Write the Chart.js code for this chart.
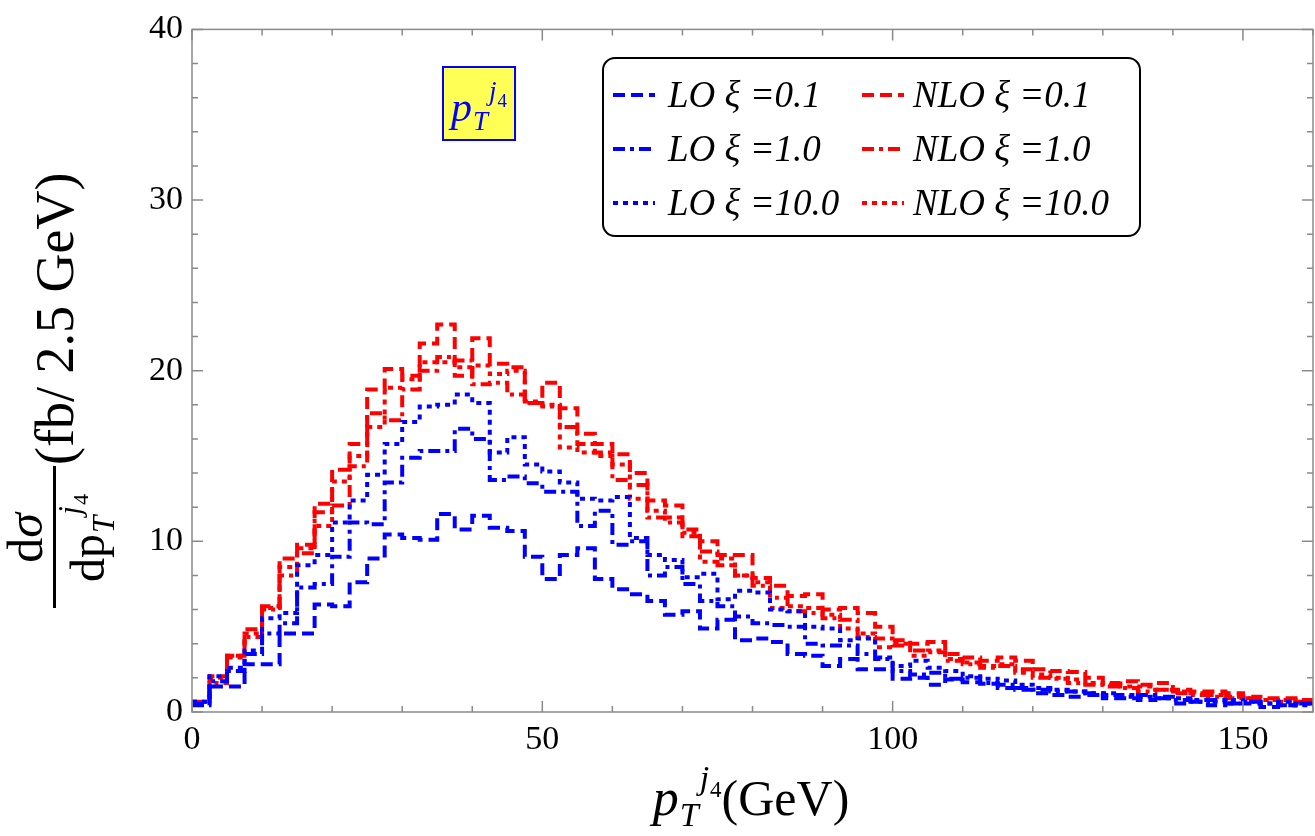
<!DOCTYPE html>
<html>
<head>
<meta charset="utf-8">
<script src="https://cdn.jsdelivr.net/npm/chart.js@4.4.0/dist/chart.umd.min.js"></script>
<style>
  html, body { margin: 0; padding: 0; background: #fff; }
  #wrap { width: 1315px; height: 836px; position: relative; }
</style>
</head>
<body>
<div id="wrap"><canvas id="chart"></canvas></div>
<script>
// bins of 2.5 GeV from 0 to 160
const binWidth = 2.5;
const xTicks = [0, 50, 100, 150];
const yTicks = [0, 10, 20, 30, 40];

// LO, xi = 0.1 / 1.0 / 10.0
const loXi01 = [0.5, 1.5, 1.5, 2.8, 2.8, 4.6, 4.6, 6.3, 6.2, 7.6,
  9.0, 10.4, 10.2, 10.1, 11.6, 10.7, 11.5, 10.8, 10.6, 9.1,
  7.8, 9.2, 9.6, 7.8, 7.2, 6.9, 6.5, 5.7, 5.9, 4.9,
  5.4, 4.2, 4.3, 4.1, 3.4, 3.3, 2.7, 3.1, 2.5, 2.5,
  1.95, 2.0, 1.6, 1.9, 1.75, 1.65, 1.4, 1.3, 1.1, 1.0,
  0.9, 1.1, 0.8, 0.8, 0.7, 0.9, 0.5, 0.6, 0.4, 0.5,
  0.5, 0.3, 0.4, 0.5];
const loXi1 = [0.4, 1.8, 2.4, 3.4, 4.6, 5.2, 7.3, 7.5, 9.1, 11.1,
  11.0, 13.45, 14.9, 15.3, 15.3, 16.6, 16.0, 13.6, 13.8, 13.4,
  12.9, 12.9, 10.9, 11.8, 9.8, 10.0, 8.0, 8.5, 7.5, 6.5,
  6.2, 5.6, 5.2, 5.1, 5.0, 4.0, 3.9, 3.9, 3.4, 3.1,
  2.4, 2.2, 2.3, 1.95, 2.0, 1.7, 1.6, 1.4, 1.3, 1.2,
  1.2, 1.0, 1.0, 0.9, 1.0, 0.8, 0.7, 0.6, 0.7, 0.5,
  0.6, 0.5, 0.4, 0.5];
const loXi10 = [0.6, 2.1, 2.6, 3.6, 5.5, 5.8, 8.6, 9.2, 11.1, 12.4,
  13.9, 15.7, 17.0, 17.9, 18.0, 18.6, 18.1, 15.2, 16.1, 14.5,
  14.1, 13.45, 12.5, 12.4, 12.6, 10.2, 9.2, 8.9, 7.9, 8.1,
  6.6, 7.1, 7.0, 6.0, 5.9, 5.0, 4.9, 4.2, 4.3, 3.2,
  2.7, 3.0, 2.6, 2.4, 2.1, 1.95, 1.85, 1.6, 1.4, 1.3,
  1.2, 1.1, 1.1, 1.0, 0.9, 0.8, 0.8, 0.7, 0.6, 0.7,
  0.6, 0.5, 0.6, 0.4];

// NLO, xi = 0.1 / 1.0 / 10.0
const nloXi01 = [0.6, 2.1, 3.3, 4.85, 6.2, 9.0, 9.8, 12.2, 14.2, 15.7,
  18.9, 20.1, 19.7, 21.6, 22.7, 19.7, 21.9, 20.4, 20.2, 18.1,
  19.3, 17.8, 16.3, 15.7, 15.1, 14.0, 12.4, 12.1, 10.7, 10.0,
  9.2, 9.2, 7.85, 7.4, 6.8, 6.9, 6.0, 6.1, 5.8, 5.0,
  4.2, 4.0, 4.1, 3.4, 3.2, 3.0, 3.2, 3.0, 2.5, 2.4,
  2.35, 2.0, 1.7, 1.8, 1.6, 1.7, 1.3, 1.2, 1.2, 1.1,
  0.9, 0.8, 0.8, 0.7];
const nloXi1 = [0.5, 1.7, 3.3, 4.4, 6.0, 8.0, 9.3, 11.7, 12.1, 14.4,
  17.5, 17.1, 18.9, 20.0, 20.8, 20.6, 19.2, 19.3, 18.6, 18.1,
  17.9, 16.7, 15.7, 15.2, 13.6, 13.3, 11.4, 11.1, 10.3, 9.4,
  8.6, 8.0, 7.4, 6.7, 5.9, 5.8, 5.5, 5.4, 4.4, 4.3,
  3.9, 3.6, 3.5, 3.0, 2.8, 2.6, 2.7, 2.5, 2.0, 1.95,
  1.7, 1.6, 1.5, 1.4, 1.2, 1.3, 1.1, 1.0, 0.9, 0.8,
  0.8, 0.7, 0.6, 0.6];
const nloXi10 = [0.6, 2.0, 3.2, 4.6, 6.1, 8.5, 9.6, 10.9, 13.5, 15.0,
  16.7, 19.0, 19.5, 20.5, 20.5, 20.2, 20.3, 19.8, 20.0, 18.2,
  18.0, 15.5, 15.2, 15.0, 14.5, 12.5, 11.8, 11.4, 10.5, 8.8,
  9.0, 8.0, 7.6, 6.1, 6.2, 6.1, 5.7, 4.9, 4.6, 3.8,
  4.0, 3.3, 3.6, 3.1, 2.9, 2.7, 2.8, 2.3, 2.2, 2.0,
  1.9, 1.7, 1.6, 1.5, 1.5, 1.3, 1.2, 1.1, 1.0, 0.9,
  0.8, 0.7, 0.7, 0.6];

const serif = '"Liberation Serif", "DejaVu Serif", serif';
const blue = '#0000ff';
const red = '#ff0000';
const dashLong = [12, 6];
const dashDot = [12, 5, 4, 5];
const dashShort = [5, 5];

const series = [
  { name: 'LO', xi: '0.1', data: loXi01, color: blue, dash: dashLong },
  { name: 'LO', xi: '1.0', data: loXi1, color: blue, dash: dashDot },
  { name: 'LO', xi: '10.0', data: loXi10, color: blue, dash: dashShort },
  { name: 'NLO', xi: '0.1', data: nloXi01, color: red, dash: dashLong },
  { name: 'NLO', xi: '1.0', data: nloXi1, color: red, dash: dashDot },
  { name: 'NLO', xi: '10.0', data: nloXi10, color: red, dash: dashShort }
];

// step histogram: one point per bin left edge, plus closing point
function histPoints(vals) {
  const pts = vals.map((v, i) => ({ x: i * binWidth, y: v }));
  pts.push({ x: vals.length * binWidth, y: vals[vals.length - 1] });
  return pts;
}

function drawRich(ctx, parts, x, y) {
  let cx = x;
  for (const p of parts) {
    ctx.font = p.f;
    ctx.fillText(p.t, cx, y + (p.dy || 0));
    cx += ctx.measureText(p.t).width + (p.dx || 0);
  }
  return cx - x;
}
function richWidth(ctx, parts) {
  let w = 0;
  for (const p of parts) {
    ctx.font = p.f;
    w += ctx.measureText(p.t).width + (p.dx || 0);
  }
  return w;
}
function ptLabel(size) {
  const s = Math.round(size * 0.65);
  const ss = Math.round(size * 0.45);
  return [
    { t: 'p', f: `italic ${size}px ${serif}`, dx: 1 },
    { t: 'T', f: `italic ${s}px ${serif}`, dy: Math.round(size * 0.22), dx: 1 },
    { t: 'j', f: `italic ${s}px ${serif}`, dy: -Math.round(size * 0.5), dx: 1 },
    { t: '4', f: `${ss}px ${serif}`, dy: -Math.round(size * 0.34) }
  ];
}

const decorations = {
  id: 'decorations',
  afterDraw(chart) {
    const { ctx, chartArea: a, scales: { x, y } } = chart;
    ctx.save();

    // frame and inward ticks on all four sides
    ctx.strokeStyle = '#8a8a8a';
    ctx.lineWidth = 1.5;
    ctx.strokeRect(a.left, a.top, a.right - a.left, a.bottom - a.top);
    ctx.beginPath();
    for (let v = 0; v <= 160; v += 10) {
      const px = x.getPixelForValue(v);
      const len = v % 50 === 0 ? 11 : 6;
      ctx.moveTo(px, a.bottom); ctx.lineTo(px, a.bottom - len);
      ctx.moveTo(px, a.top); ctx.lineTo(px, a.top + len);
    }
    for (let v = 0; v <= 40; v += 2) {
      const py = y.getPixelForValue(v);
      const len = v % 10 === 0 ? 11 : 6;
      ctx.moveTo(a.left, py); ctx.lineTo(a.left + len, py);
      ctx.moveTo(a.right, py); ctx.lineTo(a.right - len, py);
    }
    ctx.stroke();

    ctx.fillStyle = '#000';
    ctx.textBaseline = 'alphabetic';

    // x axis title
    const xt = ptLabel(52).concat([{ t: '(GeV)', f: `50px ${serif}` }]);
    const xw = richWidth(ctx, xt);
    drawRich(ctx, xt, 751 - xw / 2, 815);

    // y axis title (rotated)
    ctx.save();
    ctx.rotate(-Math.PI / 2);
    const num = [{ t: 'd', f: `50px ${serif}` }, { t: 'σ', f: `italic 50px ${serif}` }];
    const nw = richWidth(ctx, num);
    drawRich(ctx, num, -538 - nw / 2, 42);
    ctx.fillRect(-608, 53, 142, 3);
    const den = [{ t: 'dp', f: `48px ${serif}`, dx: 1 },
      { t: 'T', f: `italic 31px ${serif}`, dy: 10, dx: 1 },
      { t: 'j', f: `italic 31px ${serif}`, dy: -24, dx: 1 },
      { t: '4', f: `22px ${serif}`, dy: -16 }];
    const dw = richWidth(ctx, den);
    drawRich(ctx, den, -538 - dw / 2, 104);
    ctx.font = `54px ${serif}`;
    ctx.fillText('(fb/ 2.5 GeV)', -465, 73);
    ctx.restore();

    // yellow label box
    const lab = ptLabel(42);
    const lw = richWidth(ctx, lab);
    ctx.fillStyle = '#ffff55';
    ctx.fillRect(443, 67, lw + 16, 73);
    ctx.strokeStyle = blue;
    ctx.lineWidth = 2;
    ctx.strokeRect(443, 67, lw + 16, 73);
    ctx.fillStyle = blue;
    drawRich(ctx, lab, 451, 121);

    // legend
    const lx = 603, ly = 58, lwid = 537, lh = 178;
    ctx.fillStyle = '#fff';
    ctx.strokeStyle = '#000';
    ctx.lineWidth = 2;
    ctx.beginPath();
    ctx.roundRect(lx, ly, lwid, lh, 12);
    ctx.fill();
    ctx.stroke();
    const rows = [95, 149, 203];
    series.forEach((s, i) => {
      const col = i < 3 ? 0 : 1;
      const row = i % 3;
      const sx = col === 0 ? 613 : 862;
      const tx = col === 0 ? 668 : 913;
      const ry = rows[row];
      ctx.strokeStyle = s.color;
      ctx.lineWidth = 4;
      ctx.setLineDash(s.dash);
      ctx.beginPath();
      ctx.moveTo(sx, ry); ctx.lineTo(sx + 42, ry);
      ctx.stroke();
      ctx.setLineDash([]);
      ctx.fillStyle = '#000';
      ctx.font = `italic 37px ${serif}`;
      ctx.fillText(`${s.name} ξ =${s.xi}`, tx, ry + 12);
    });

    ctx.restore();
  }
};

new Chart(document.getElementById('chart'), {
  type: 'line',
  data: {
    datasets: series.map(s => ({
      label: `${s.name} ξ =${s.xi}`,
      data: histPoints(s.data),
      borderColor: s.color,
      borderDash: s.dash,
      borderWidth: 4,
      borderCapStyle: 'butt',
      stepped: 'before',
      pointRadius: 0,
      fill: false
    }))
  },
  options: {
    responsive: true,
    maintainAspectRatio: false,
    animation: false,
    layout: { padding: { top: 22, right: 2, left: 0, bottom: 0 } },
    plugins: { legend: { display: false }, tooltip: { enabled: false } },
    scales: {
      x: {
        type: 'linear', min: 0, max: 160,
        afterFit: s => { s.height = 124; },
        afterBuildTicks: s => { s.ticks = xTicks.map(v => ({ value: v })); },
        grid: { display: false, drawTicks: false },
        border: { display: false },
        ticks: { padding: 8, color: '#000', maxRotation: 0, font: { family: serif, size: 34 } }
      },
      y: {
        type: 'linear', min: 0, max: 40,
        afterFit: s => { s.width = 192; },
        afterBuildTicks: s => { s.ticks = yTicks.map(v => ({ value: v })); },
        grid: { display: false, drawTicks: false },
        border: { display: false },
        ticks: { padding: 9, color: '#000', font: { family: serif, size: 34 } }
      }
    }
  },
  plugins: [decorations]
});
</script>
</body>
</html>
